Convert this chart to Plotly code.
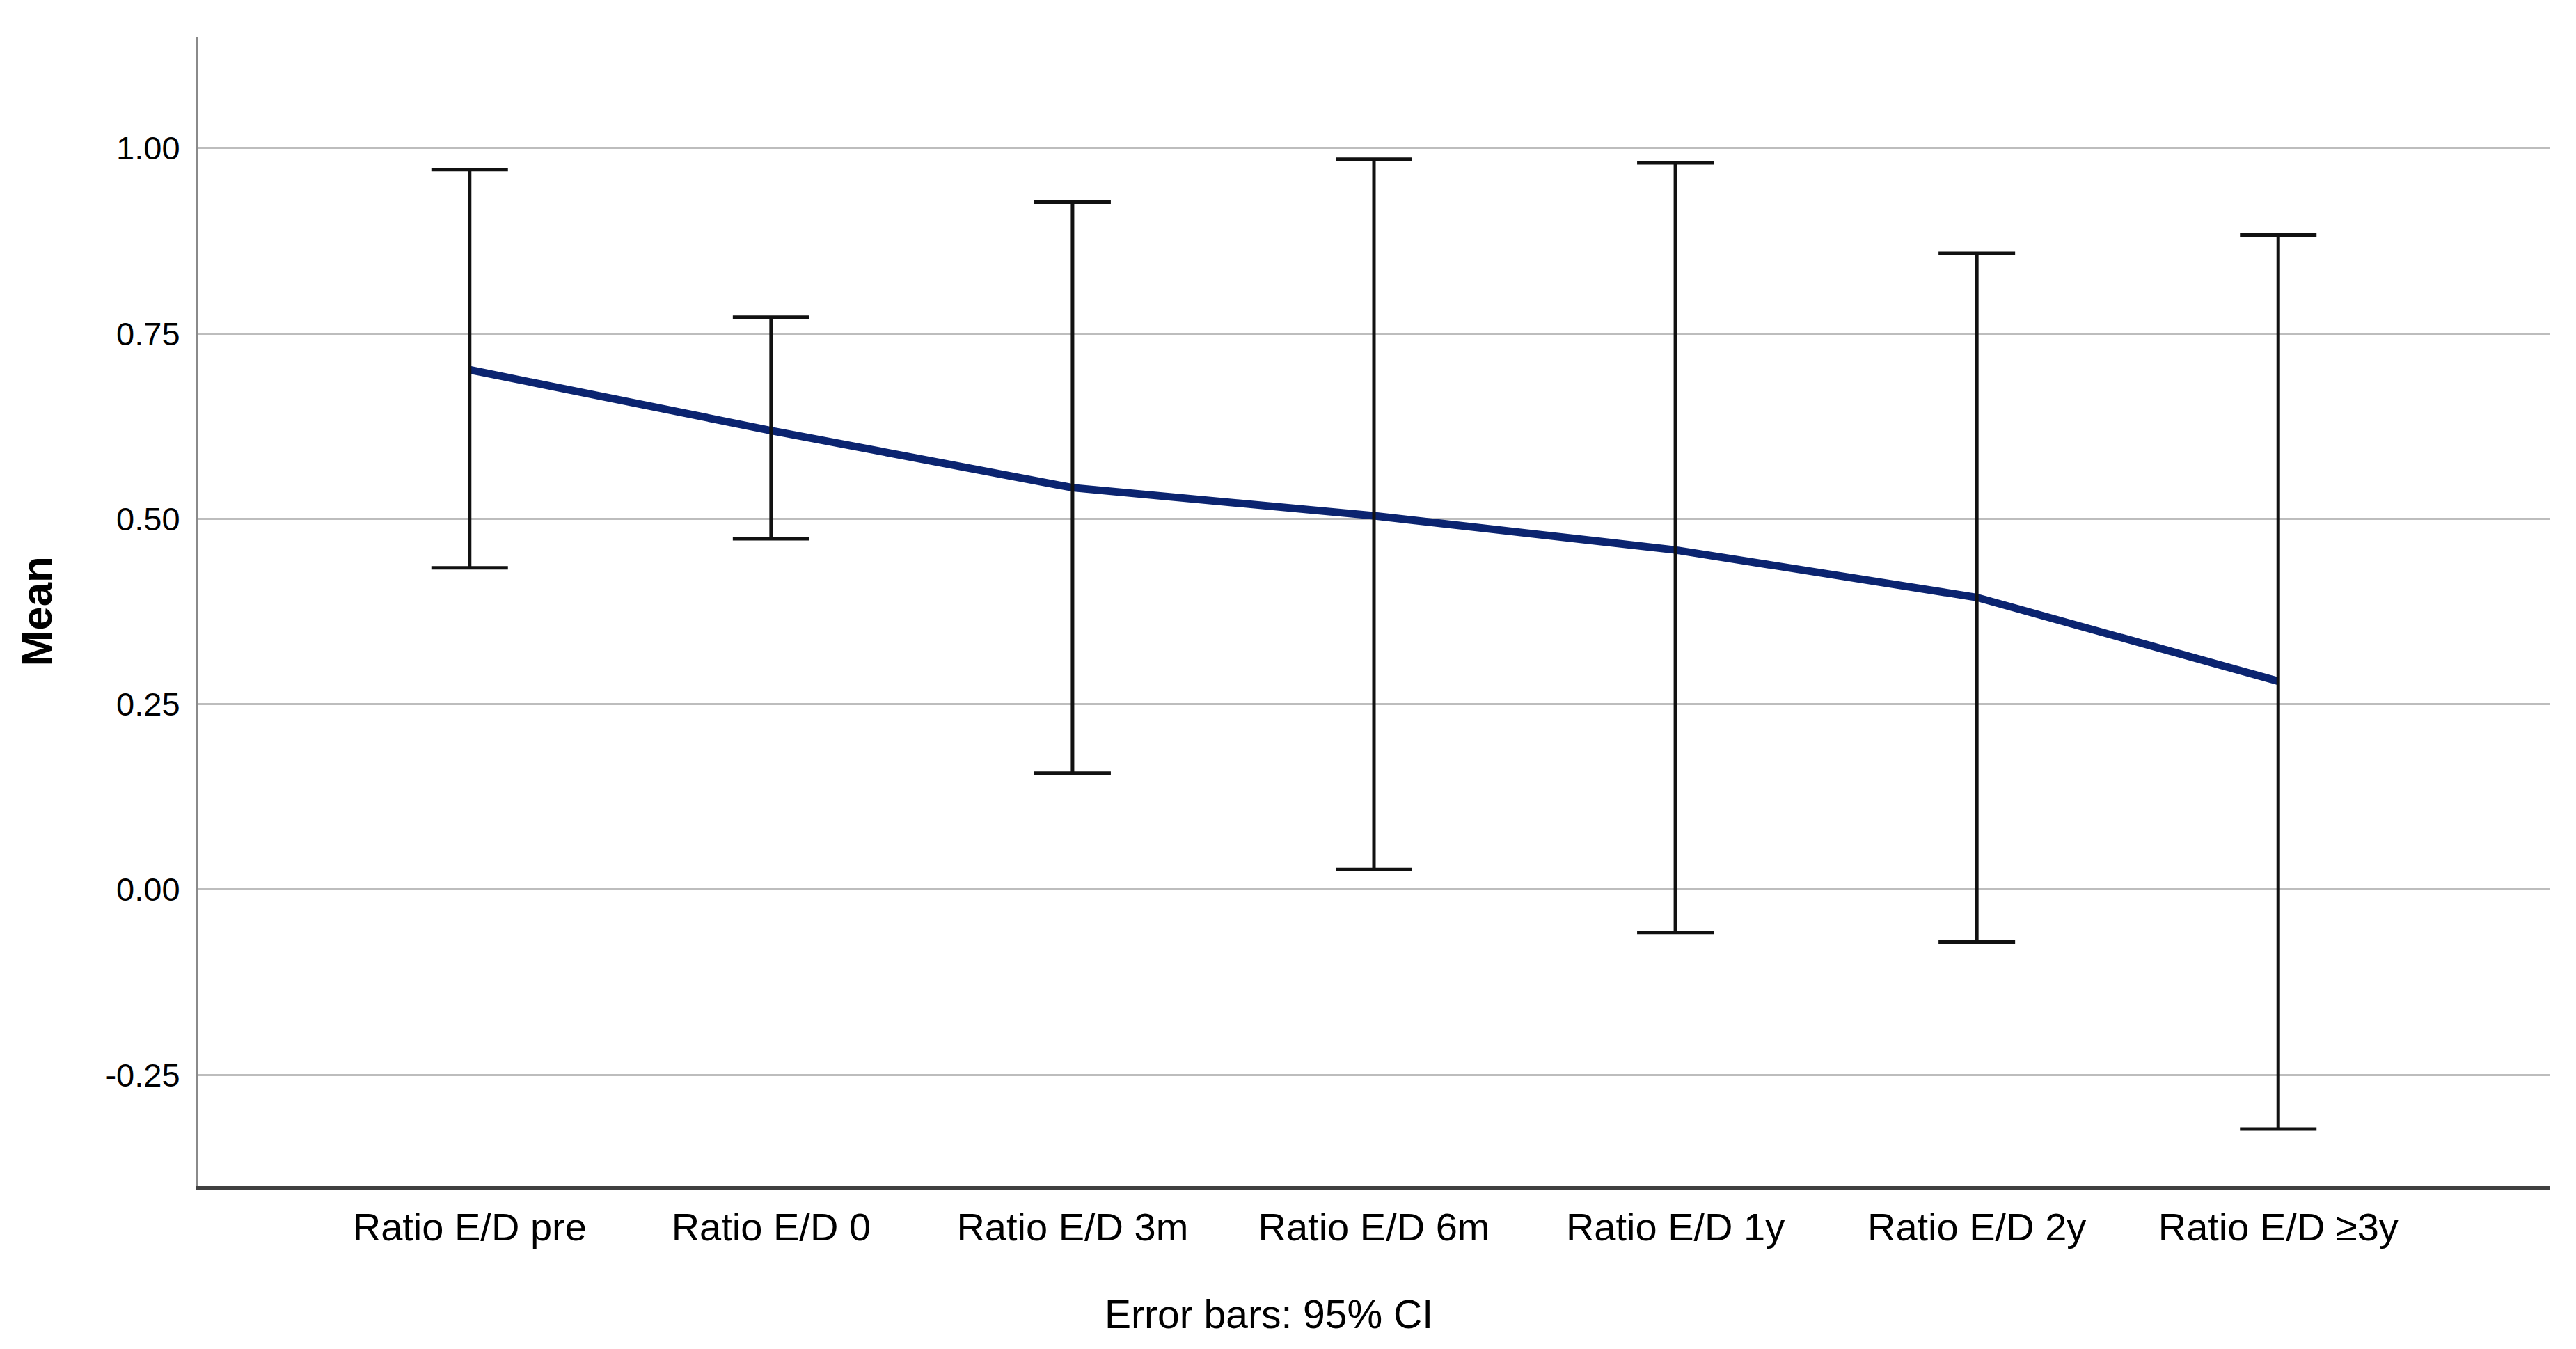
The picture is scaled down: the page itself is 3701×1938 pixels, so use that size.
import plotly.graph_objects as go

categories = ["Ratio E/D pre", "Ratio E/D 0", "Ratio E/D 3m", "Ratio E/D 6m",
              "Ratio E/D 1y", "Ratio E/D 2y", "Ratio E/D ≥3y"]
means = [0.701, 0.619, 0.542, 0.504, 0.458, 0.394, 0.281]
ci_upper = [0.971, 0.772, 0.927, 0.985, 0.980, 0.858, 0.883]
ci_lower = [0.434, 0.473, 0.157, 0.027, -0.058, -0.071, -0.323]
y_ticks = [-0.25, 0.0, 0.25, 0.50, 0.75, 1.00]
y_ticktext = ["-0.25", "0.00", "0.25", "0.50", "0.75", "1.00"]

err_plus = [u - m for u, m in zip(ci_upper, means)]
err_minus = [m - l for m, l in zip(means, ci_lower)]

FONT = "Liberation Sans, Arial, sans-serif"

W, H = 3701, 1938
ML, MR, MT, MB = 277, 46, 45, 242
PW, PH = W - ML - MR, H - MT - MB
OFF = 8  # page body margin offset

fig = go.Figure()
fig.add_trace(go.Scatter(
    x=categories, y=means, mode="lines",
    line=dict(color="#0b2470", width=11),
    showlegend=False, hoverinfo="skip",
))
fig.add_trace(go.Scatter(
    x=categories, y=means, mode="markers",
    marker=dict(size=1, color="rgba(0,0,0,0)"),
    error_y=dict(type="data", symmetric=False, array=err_plus, arrayminus=err_minus,
                 color="#111111", thickness=5, width=55),
    showlegend=False,
))

fig.update_layout(
    width=W, height=H,
    margin=dict(l=ML, r=MR, t=MT, b=MB, autoexpand=False),
    paper_bgcolor="white", plot_bgcolor="white",
    font=dict(family=FONT, color="black"),
    xaxis=dict(
        type="category", range=[-0.9, 6.9],
        showline=True, linecolor="#404040", linewidth=5,
        showgrid=False, ticks="", zeroline=False,
        tickfont=dict(size=56, family=FONT, color="black"),
        ticklabelstandoff=6,
    ),
    yaxis=dict(
        range=[-0.40, 1.15],
        tickvals=y_ticks, ticktext=y_ticktext,
        showline=True, linecolor="#8a8a8a", linewidth=3,
        showgrid=True, gridcolor="#bdbdbd", gridwidth=3,
        zeroline=False, ticks="",
        tickfont=dict(size=47, family=FONT, color="black"),
        ticklabelstandoff=14,
    ),
    annotations=[
        dict(text="<b>Mean</b>", xref="paper", yref="paper",
             x=(52 - OFF - ML) / PW, y=0.5, textangle=-90, showarrow=False,
             font=dict(size=62, family=FONT, color="black"),
             xanchor="center", yanchor="middle"),
        dict(text="Error bars: 95% CI", xref="paper", yref="paper",
             x=(1823 - OFF - ML) / PW, y=0, yshift=-150, showarrow=False,
             font=dict(size=57, family=FONT, color="black"),
             xanchor="center", yanchor="top"),
    ],
)

fig.write_html("out.html")
